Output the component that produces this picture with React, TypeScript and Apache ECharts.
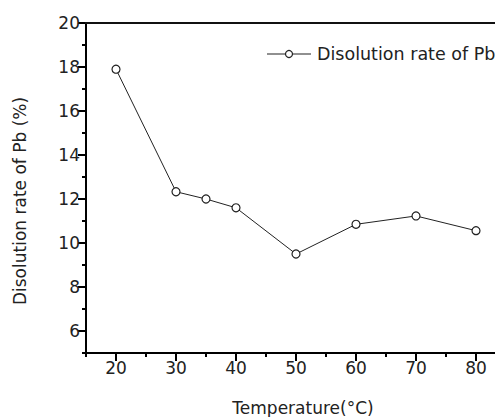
import React, { useEffect, useRef } from "react";
import * as echarts from "echarts";

const temperatures = [20, 30, 35, 40, 50, 60, 70, 80];
const dissolutionRate = [17.9, 12.33, 12.0, 11.6, 9.5, 10.85, 11.23, 10.56];
const xMajorTicks = [20, 30, 40, 50, 60, 70, 80];
const xMinorTicks = [15, 25, 35, 45, 55, 65, 75];
const yMajorTicks = [6, 8, 10, 12, 14, 16, 18, 20];
const yMinorTicks = [5, 7, 9, 11, 13, 15, 17, 19];
const seriesName = "Disolution rate of Pb";
const xTitle = "Temperature(°C)";
const yTitle = "Disolution rate of Pb (%)";

const FONT = "DejaVu Sans";
const TEXT = "#222";

export default function App() {
  const ref = useRef<HTMLDivElement>(null);
  useEffect(() => {
    if (!ref.current) return;
    const chart = echarts.init(ref.current, undefined, { renderer: "svg" });
    const gridLeft = 86;
    const gridTop = 23;
    const gridWidth = 409;
    const gridHeight = 330;
    const xMin = 15;
    const xMax = xMin + gridWidth / 6;
    const axisLineStyle = { color: "#000", width: 2 };
    const tickLine = { color: "#000", width: 2 };
    chart.setOption({
      animation: false,
      backgroundColor: "#fff",
      grid: { left: gridLeft, top: gridTop, width: gridWidth, height: gridHeight, outerBoundsMode: "none" },
      xAxis: [
        {
          type: "value", min: xMin, max: xMax, position: "bottom",
          splitLine: { show: false },
          axisLine: { show: true, lineStyle: axisLineStyle },
          axisTick: { show: true, length: 8, lineStyle: tickLine, customValues: xMajorTicks },
          axisLabel: { customValues: xMajorTicks, fontFamily: FONT, fontSize: 17, color: TEXT, margin: 6 },
        },
        {
          type: "value", min: xMin, max: xMax, position: "top", offset: -gridHeight,
          splitLine: { show: false }, axisLine: { show: false },
          axisTick: { show: true, inside: true, length: 4, lineStyle: tickLine, customValues: xMinorTicks },
          axisLabel: { show: false },
        },
      ],
      yAxis: [
        {
          type: "value", min: 5, max: 20, position: "left",
          splitLine: { show: false },
          axisLine: { show: true, lineStyle: axisLineStyle },
          axisTick: { show: true, length: 8, lineStyle: tickLine, customValues: yMajorTicks },
          axisLabel: { customValues: yMajorTicks, fontFamily: FONT, fontSize: 17, color: TEXT, margin: 6 },
        },
        {
          type: "value", min: 5, max: 20, position: "right", offset: -gridWidth,
          splitLine: { show: false }, axisLine: { show: false },
          axisTick: { show: true, inside: true, length: 4, lineStyle: tickLine, customValues: yMinorTicks },
          axisLabel: { show: false },
        },
      ],
      series: [
        {
          name: seriesName, type: "line", xAxisIndex: 0, yAxisIndex: 0,
          data: temperatures.map((t, i) => [t, dissolutionRate[i]]),
          symbol: "circle", symbolSize: 8, showAllSymbol: true,
          lineStyle: { color: "#222", width: 1 },
          itemStyle: { color: "#fff", borderColor: "#222", borderWidth: 1.2 },
        },
      ],
      graphic: [
        { type: "rect", shape: { x: gridLeft - 1, y: gridTop - 1, width: 495 - gridLeft + 1, height: 2 }, style: { fill: "#111111" }, z: 1000 },
        { type: "line", shape: { x1: 267, y1: 54, x2: 311, y2: 54 }, style: { stroke: "#222", lineWidth: 1.2 }, z: 100 },
        { type: "circle", shape: { cx: 289, cy: 54, r: 3.5 }, style: { fill: "#fff", stroke: "#222", lineWidth: 1.2 }, z: 101 },
        { type: "text", x: 317, y: 54, style: { text: seriesName, fontFamily: FONT, fontSize: 17.5, fill: TEXT, textAlign: "left", textVerticalAlign: "middle" }, z: 100 },
        { type: "text", x: 303, y: 408, style: { text: xTitle, fontFamily: FONT, fontSize: 17, fill: TEXT, textAlign: "center", textVerticalAlign: "middle" } },
        { type: "text", x: 20, y: 201, rotation: Math.PI / 2, style: { text: yTitle, fontFamily: FONT, fontSize: 17, fill: TEXT, textAlign: "center", textVerticalAlign: "middle" } },
      ],
    });
    return () => chart.dispose();
  }, []);
  return <div ref={ref} style={{ width: 495, height: 417, position: "absolute", left: 0, top: 0 }} />;
}
